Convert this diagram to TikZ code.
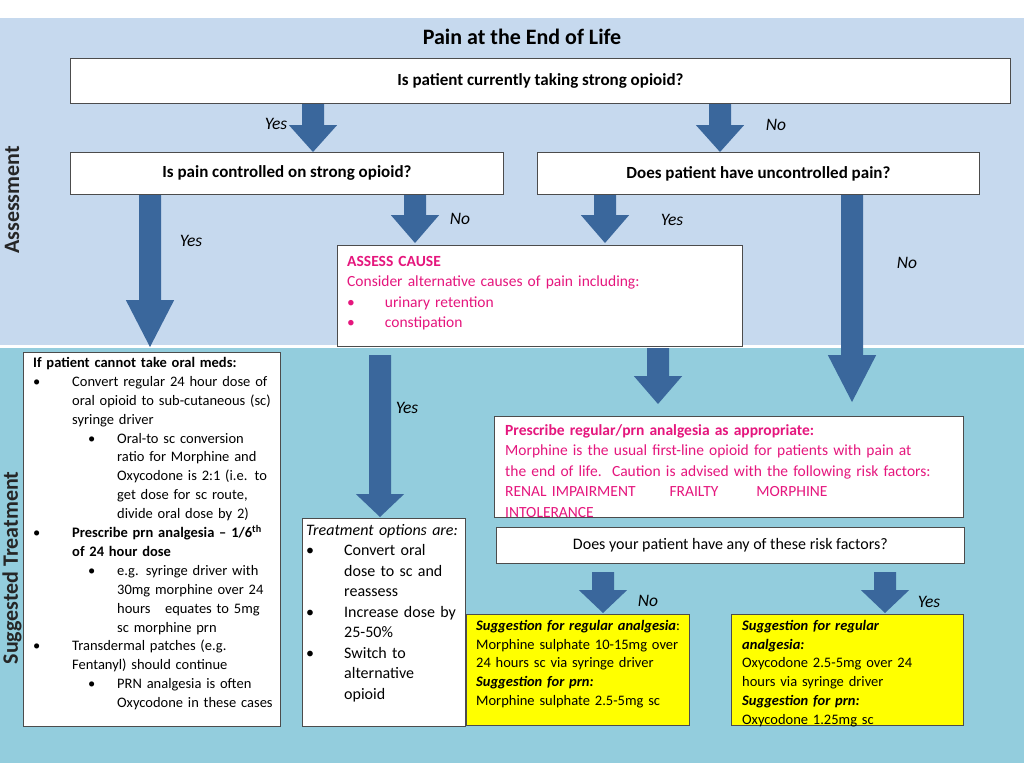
\documentclass[tikz,border=0pt]{standalone}
\usepackage{fontspec}
\setmainfont{Carlito}
\usepackage{enumitem}
\setlist[itemize]{label=\textbullet,topsep=0pt,itemsep=0pt,parsep=0pt,partopsep=0pt,align=left,labelwidth=8pt}
\definecolor{topbg}{HTML}{C6D9EE}
\definecolor{botbg}{HTML}{93CDDD}
\definecolor{arr}{HTML}{3A679C}
\definecolor{pinkt}{HTML}{E5167D}
\definecolor{yel}{HTML}{FFFF00}
\newcommand{\barrow}[5]{% x, ytop, yheadstart, ybottom, halfshaft
  \fill[arr] (#1-#5,#2) -- (#1+#5,#2) -- (#1+#5,#3) -- (#1+2.2*#5,#3) -- (#1,#4) -- (#1-2.2*#5,#3) -- (#1-#5,#3) -- cycle;}
\tikzset{
  box/.style={draw=black!70, line width=0.8pt, fill=white, inner sep=0pt},
  txt/.style={anchor=north west, inner sep=0pt, align=left, font=\fontsize{15.5}{20.5}\selectfont},
  lbl/.style={font=\fontsize{17.5}{20}\selectfont\itshape, inner sep=0pt}
}
\begin{document}
\begin{tikzpicture}[x=1pt,y=-1pt]
\useasboundingbox (0,0) rectangle (1024,768);
\fill[white] (0,0) rectangle (1024,768);
\fill[topbg] (0,18) rectangle (1024,345);
\fill[botbg] (0,348) rectangle (1024,763);
\node[rotate=90, font=\fontsize{22}{24}\selectfont\bfseries, text=black!85] (sa) at (12,200) {Assessment};
\node[rotate=90, font=\fontsize{22}{24}\selectfont\bfseries, text=black!85] (st) at (12,568) {Suggested Treatment};
\node[font=\fontsize{22}{24}\selectfont\bfseries] (title) at (522,37) {Pain at the End of Life};

% arrows
\barrow{313}{103}{125}{152}{11}
\barrow{720}{103}{125}{152}{11}
\barrow{150}{195}{300}{347}{11}
\barrow{415}{195}{215}{243}{11}
\barrow{605}{195}{215}{243}{11}
\barrow{852}{195}{355}{402}{11}
\barrow{380}{355}{494}{517}{11}
\barrow{658}{348}{376}{404}{11}
\barrow{603}{572}{590}{613}{11}
\barrow{885}{572}{590}{613}{11}

% boxes
\node[box, minimum width=940, minimum height=45, anchor=north west, font=\fontsize{17}{20}\selectfont\bfseries] (q1) at (70,58) {Is patient currently taking strong opioid?};
\node[box, minimum width=433, minimum height=42, anchor=north west, font=\fontsize{17}{20}\selectfont\bfseries] (q2) at (70,152) {Is pain controlled on strong opioid?};
\node[box, minimum width=442, minimum height=42, anchor=north west, font=\fontsize{17}{20}\selectfont\bfseries] (q3) at (537,152) {Does patient have uncontrolled pain?};

\node[lbl] (y1) at (276,124) {Yes};
\node[lbl] (n1) at (776,125) {No};
\node[lbl] (n2) at (460,219) {No};
\node[lbl] (y2) at (672,220) {Yes};
\node[lbl] (y3) at (191,241) {Yes};
\node[lbl] (n3) at (907,263) {No};
\node[lbl] (y4) at (407,408) {Yes};
\node[lbl] (n4) at (648,601) {No};
\node[lbl] (y5) at (929,602) {Yes};

\node[box, minimum width=405, minimum height=101, anchor=north west] (ac) at (337,245) {};
\node[txt, text=pinkt, text width=390] (act) at (347,256) {\textbf{ASSESS CAUSE}\\Consider alternative causes of pain including:\\
\textbullet\hspace{30pt}urinary retention\\\textbullet\hspace{30pt}constipation};

\node[box, minimum width=257, minimum height=374, anchor=north west] (lb) at (23,352) {};
\node[txt, text width=240, font=\fontsize{14.5}{18.9}\selectfont\raggedright] (lbt) at (33,357) {\textbf{If patient cannot take oral meds:}
\begin{itemize}[leftmargin=39pt,labelsep=31pt,labelindent=0pt]
\item Convert regular 24 hour dose of oral opioid to sub-cutaneous (sc)\ \ syringe driver
\begin{itemize}[leftmargin=45pt,labelsep=21pt,labelindent=16pt]
\item Oral-to sc conversion ratio for Morphine and Oxycodone is 2:1 (i.e. to get dose for sc route, divide oral dose by 2)
\end{itemize}
\item \textbf{Prescribe prn analgesia -- 1/6\textsuperscript{th} of 24 hour dose}
\begin{itemize}[leftmargin=45pt,labelsep=21pt,labelindent=16pt]
\item e.g. syringe driver with 30mg morphine over 24 hours\ \ \ equates to 5mg sc morphine prn
\end{itemize}
\item Transdermal patches (e.g. Fentanyl) should continue
\begin{itemize}[leftmargin=45pt,labelsep=21pt,labelindent=16pt]
\item PRN analgesia is often Oxycodone in these cases
\end{itemize}
\end{itemize}};

\node[box, minimum width=163, minimum height=208, anchor=north west] (tb) at (302,518) {};
\node[txt, text width=152, font=\fontsize{16}{20.5}\selectfont\raggedright] (tbt) at (306,524) {\textit{Treatment options are:}
\begin{itemize}[leftmargin=38pt,labelsep=30pt,labelindent=0pt]
\item Convert oral dose to sc and reassess
\item Increase dose by 25-50\%
\item Switch to alternative opioid
\end{itemize}};

\node[box, minimum width=469, minimum height=101, anchor=north west] (pb) at (494,416) {};
\node[txt, text=pinkt, text width=460] (pbt) at (505,424) {\textbf{Prescribe regular/prn analgesia as appropriate:}\\Morphine is the usual first-line opioid for patients with pain at\\the end of life.\ \ Caution is advised with the following risk factors:\\RENAL IMPAIRMENT\hspace{34pt}FRAILTY\hspace{38pt}MORPHINE\\INTOLERANCE};

\node[box, minimum width=468, minimum height=36, anchor=north west, font=\fontsize{16}{18}\selectfont] (rb) at (496,527) {Does your patient have any of these risk factors?};

\node[box, fill=yel, minimum width=223, minimum height=111, anchor=north west] (y1b) at (466,614) {};
\node[txt, text width=218, font=\fontsize{14.5}{18.8}\selectfont\raggedright] (y1t) at (476,620) {\textbf{\textit{Suggestion for regular analgesia}}:\\Morphine sulphate 10-15mg over\\24 hours sc via syringe driver\\\textbf{\textit{Suggestion for prn:}}\\Morphine sulphate 2.5-5mg sc};

\node[box, fill=yel, minimum width=232, minimum height=111, anchor=north west] (y2b) at (731,614) {};
\node[txt, text width=200, font=\fontsize{14.5}{18.8}\selectfont\raggedright] (y2t) at (742,620) {\textbf{\textit{Suggestion for regular\\analgesia:}}\\Oxycodone 2.5-5mg over 24\\hours via syringe driver\\\textbf{\textit{Suggestion for prn:}}\\Oxycodone 1.25mg sc};
\end{tikzpicture}
\end{document}
